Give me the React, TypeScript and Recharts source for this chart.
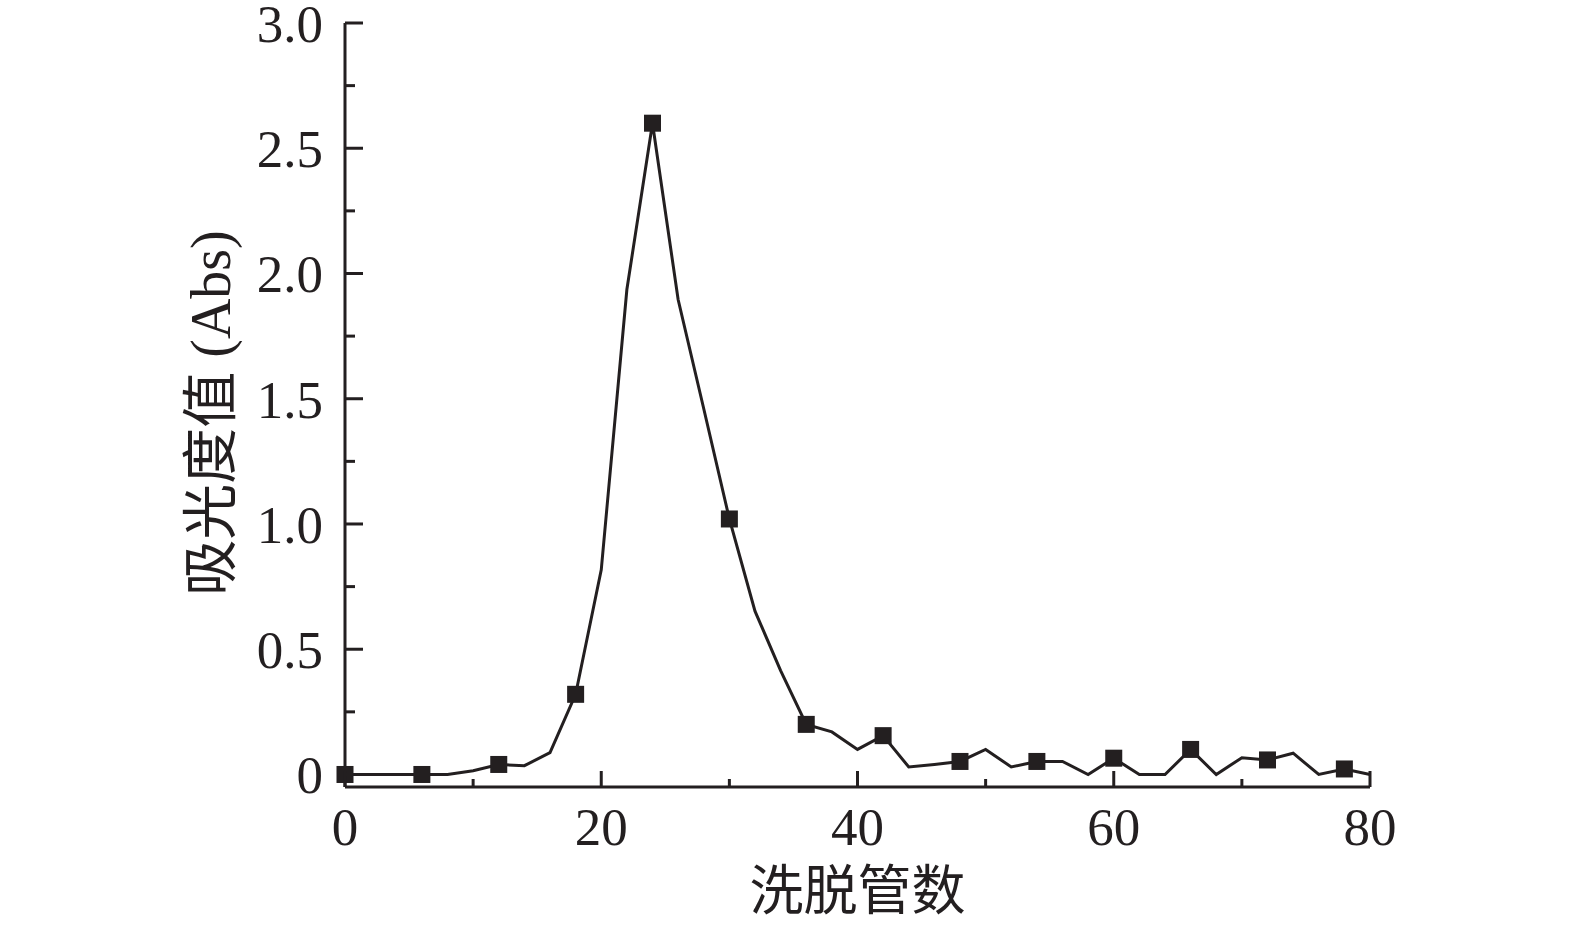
import { LineChart, Line, XAxis, YAxis, Label } from "recharts";

// elution tube number (every 2nd tube) and absorbance readings
const tubes = [
  0, 2, 4, 6, 8, 10, 12, 14, 16, 18, 20, 22, 24, 26, 28, 30, 32, 34, 36, 38, 40,
  42, 44, 46, 48, 50, 52, 54, 56, 58, 60, 62, 64, 66, 68, 70, 72, 74, 76, 78, 80,
];
const absorbance = [
  0, 0, 0, 0, 0, 0.015, 0.04, 0.035, 0.087, 0.32, 0.817, 1.936, 2.6, 1.896, 1.46,
  1.02, 0.652, 0.415, 0.2, 0.17, 0.1, 0.155, 0.03, 0.04, 0.052, 0.1, 0.03, 0.052,
  0.052, 0, 0.065, 0, 0, 0.1, 0, 0.067, 0.058, 0.085, 0, 0.022, 0,
];

const xTicks = [0, 10, 20, 30, 40, 50, 60, 70, 80];
const xLabels = [0, 20, 40, 60, 80];
const yTicks = [0, 0.25, 0.5, 0.75, 1, 1.25, 1.5, 1.75, 2, 2.25, 2.5, 2.75, 3];
const yLabels = [0, 0.5, 1, 1.5, 2, 2.5, 3];

const INK = "#231f20";
const FONT = "'Liberation Serif', 'Times New Roman', 'Noto Sans CJK SC', serif";

const chartData = tubes.map((t, i) => ({ tube: t, abs: absorbance[i] }));

const isLabeled = (list: number[], v: number) =>
  list.some((l) => Math.abs(l - v) < 1e-6);

const YTick = (props: any) => {
  const { x, y, payload } = props;
  const major = isLabeled(yLabels, payload.value);
  return (
    <g>
      <line x1={x} y1={y} x2={x + (major ? 18 : 10)} y2={y} stroke={INK} strokeWidth={3} />
      {major && (
        <text x={x - 22} y={y + 19} textAnchor="end" fontSize={53} fontFamily={FONT} fill={INK}>
          {payload.value === 0 ? "0" : payload.value.toFixed(1)}
        </text>
      )}
    </g>
  );
};

const XTick = (props: any) => {
  const { x, y, payload } = props;
  const major = isLabeled(xLabels, payload.value);
  return (
    <g>
      <line x1={x} y1={y} x2={x} y2={y - (major ? 16 : 8)} stroke={INK} strokeWidth={3} />
      {major && (
        <text x={x} y={y + 58} textAnchor="middle" fontSize={53} fontFamily={FONT} fill={INK}>
          {payload.value}
        </text>
      )}
    </g>
  );
};

// square marker on every 3rd sample (tubes 0, 6, 12, ...)
const SquareDot = (props: any) => {
  const { cx, cy, index } = props;
  if (index % 3 !== 0 || cx == null || cy == null) return <g key={index} />;
  return <rect key={index} x={cx - 8.5} y={cy - 8.5} width={17} height={17} fill={INK} />;
};

export default function App() {
  return (
    <div style={{ position: "absolute", left: 0, top: 0, background: "#fff" }}>
      <LineChart
        width={1575}
        height={929}
        data={chartData}
        margin={{ top: 23, right: 205, left: 0, bottom: 0 }}
      >
        <XAxis
          dataKey="tube"
          type="number"
          domain={[0, 80]}
          ticks={xTicks}
          interval={0}
          height={142}
          tickSize={0}
          tickMargin={0}
          tickLine={false}
          axisLine={{ stroke: INK, strokeWidth: 3 }}
          tick={<XTick />}
        >
          <Label
            value="洗脱管数"
            position="center"
            dy={33}
            style={{ fontSize: 54, fontFamily: FONT, fill: INK }}
          />
        </XAxis>
        <YAxis
          type="number"
          domain={[-0.05, 3]}
          ticks={yTicks}
          interval={0}
          width={345}
          tickSize={0}
          tickMargin={0}
          tickLine={false}
          axisLine={{ stroke: INK, strokeWidth: 3 }}
          tick={<YTick />}
        >
          <Label
            value="吸光度值 (Abs)"
            angle={-90}
            position="center"
            dx={38}
            dy={8}
            style={{ fontSize: 56, fontFamily: FONT, fill: INK, textAnchor: "middle" }}
          />
        </YAxis>
        <Line
          type="linear"
          dataKey="abs"
          stroke={INK}
          strokeWidth={3}
          dot={<SquareDot />}
          activeDot={false}
          isAnimationActive={false}
        />
      </LineChart>
    </div>
  );
}
